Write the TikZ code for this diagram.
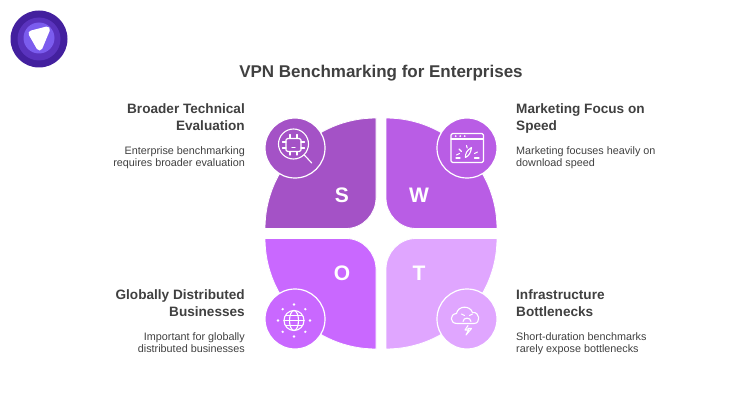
\documentclass[tikz,border=0pt]{standalone}
\usepackage{fontspec}
\setmainfont{Liberation Sans}
\usetikzlibrary{positioning}
\definecolor{swotS}{HTML}{A452C6}
\definecolor{swotW}{HTML}{B95DE5}
\definecolor{swotO}{HTML}{C968FF}
\definecolor{swotT}{HTML}{E0A6FF}
\definecolor{inktext}{HTML}{404040}
\definecolor{logoA}{HTML}{43209E}
\definecolor{logoB}{HTML}{5A33BE}
\definecolor{logoC}{HTML}{7B5CEE}
\tikzset{
	petal/.style = {draw=white, line width=0.8pt},
	badge/.style = {
			circle,
			draw            = white,
			line width      = 1.2pt,
			minimum size    = 60pt,
			inner sep       = 0pt,
		},
	letter/.style = {text=white, font=\fontsize{21}{21}\selectfont\bfseries},
	heading/.style = {
			text=inktext, inner sep=0pt,
			font=\fontsize{13.6}{17.6}\selectfont\bfseries,
		},
	blurb/.style = {
			text=inktext, inner sep=0pt,
			font=\fontsize{10.8}{12.8}\selectfont,
		},
	glyph/.style = {draw=white, line width=1.1pt, line cap=round, line join=round},
}
\begin{document}
\begin{tikzpicture}[x=1pt,y=-1pt]
	\useasboundingbox (0,0) rectangle (740,420);
	% logo
	\fill[logoA] (39,39) circle (28.5);
	\fill[logoB] (39,39) circle (21.5);
	\fill[logoC] (39,38) circle (15.5);
	\draw[white, fill=white, line width=6pt, line join=round] (31.5,33.5) -- (47,29.5) -- (39.5,47.5) -- cycle;
	\node[text=inktext, font=\fontsize{17}{17}\selectfont\bfseries] (title) at (381,73) {VPN Benchmarking for Enterprises};
	% petals
	\draw[petal, fill=swotS] (376,118) .. controls (315,118) and (265,167) .. (265,228.5) -- (346,228.5) .. controls (363,228.5) and (376,214) .. (376,198) -- cycle;
	\draw[petal, fill=swotW] (386,118) .. controls (447,118) and (497,167) .. (497,228.5) -- (416,228.5) .. controls (399,228.5) and (386,214) .. (386,198) -- cycle;
	\draw[petal, fill=swotO] (376,349) .. controls (315,349) and (265,300) .. (265,238.5) -- (346,238.5) .. controls (363,238.5) and (376,253) .. (376,269) -- cycle;
	\draw[petal, fill=swotT] (386,349) .. controls (447,349) and (497,300) .. (497,238.5) -- (416,238.5) .. controls (399,238.5) and (386,253) .. (386,269) -- cycle;
	\node[letter] (letterS) at (342,195) {S};
	\node[letter] (letterW) at (419,195) {W};
	\node[letter] (letterO) at (342,273) {O};
	\node[letter] (letterT) at (419,273) {T};
	\node[badge, fill=swotS] (badgeS) at (295,148) {};
	\node[badge, fill=swotW] (badgeW) at (467,148) {};
	\node[badge, fill=swotO] (badgeO) at (295,319) {};
	\node[badge, fill=swotT] (badgeT) at (467,319) {};
	% chip under a magnifier
	\draw[glyph] (293.5,144) circle (15);
	\draw[glyph] (304.3,155) -- (311.7,163);
	\draw[glyph, rounded corners=1.5pt] (286,138.5) rectangle (301,151.5);
	\foreach \px in {290,297} {
		\draw[glyph] (\px,134.5) -- (\px,138.5);
		\draw[glyph] (\px,151.5) -- (\px,155);
	}
	\foreach \py in {142,148} {
		\draw[glyph] (282.5,\py) -- (286,\py);
		\draw[glyph] (301,\py) -- (304.5,\py);
	}
	\draw[glyph] (292,147.5) -- (295,147.5);
	% browser with speed gauge
	\draw[glyph, rounded corners=1.5pt] (451,133.5) rectangle (483.5,162.5);
	\draw[glyph] (451,139) -- (483.5,139);
	\foreach \px in {455.7,460.2,464.7} \fill[white] (\px,136.1) circle (1);
	\draw[glyph] (471.5,147.5) .. controls (467,150) and (465,154) .. (465.5,157.5) .. controls (469,156) and (471,152) .. (471.5,147.5) -- cycle;
	\draw[glyph] (456,158) -- (460,158);
	\draw[glyph] (474.5,158) -- (479,158);
	\draw[glyph] (456.5,155) -- (459.5,153.5);
	\draw[glyph] (474.5,153.5) -- (477.5,152);
	\draw[glyph] (459,149) -- (461.5,151.5);
	\draw[glyph] (466.5,145.5) -- (467.2,148);
	% globe with dots
	\draw[glyph] (294,320.5) circle (10);
	\draw[glyph] (294,320.5) ellipse (4.5 and 10);
	\draw[glyph] (284,320.5) -- (304,320.5);
	\draw[glyph] (285.5,315.5) -- (302.5,315.5);
	\draw[glyph] (285.5,325.5) -- (302.5,325.5);
	\foreach \ang in {0,45,...,315} \fill[white] (294,320.5) ++(\ang:16) circle (1.3);
	% storm cloud
	\draw[glyph] (457,323.5) .. controls (449.5,323.5) and (449.5,314) .. (456.5,313.5) .. controls (458,305.5) and (470,305) .. (472.5,312.5) .. controls (480,311.5) and (481,323.5) .. (474,323.5) -- cycle;
	\draw[glyph] (461.5,314) -- (464.5,315.5);
	\draw[glyph] (472.5,314) -- (469.5,315.5);
	\draw[glyph] (463,321.5) .. controls (463.5,317) and (470.5,317) .. (471,321.5);
	\draw[glyph] (468,325.5) -- (465,330) -- (468.5,330) -- (466,335) -- (471.5,328.5) -- (468,328.5);
	% labels
	\node[heading, align=right, anchor=north east] (headS) at (245,103) {Broader Technical\\Evaluation};
	\node[blurb, align=right, anchor=north east] (textS) at (245,146) {Enterprise benchmarking\\requires broader evaluation};
	\node[heading, align=left, anchor=north west] (headW) at (516,103) {Marketing Focus on\\Speed};
	\node[blurb, align=left, anchor=north west] (textW) at (516,146) {Marketing focuses heavily on\\download speed};
	\node[heading, align=right, anchor=north east] (headO) at (245,289) {Globally Distributed\\Businesses};
	\node[blurb, align=right, anchor=north east] (textO) at (245,332) {Important for globally\\distributed businesses};
	\node[heading, align=left, anchor=north west] (headT) at (516,289) {Infrastructure\\Bottlenecks};
	\node[blurb, align=left, anchor=north west] (textT) at (516,332) {Short-duration benchmarks\\rarely expose bottlenecks};
\end{tikzpicture}
\end{document}
